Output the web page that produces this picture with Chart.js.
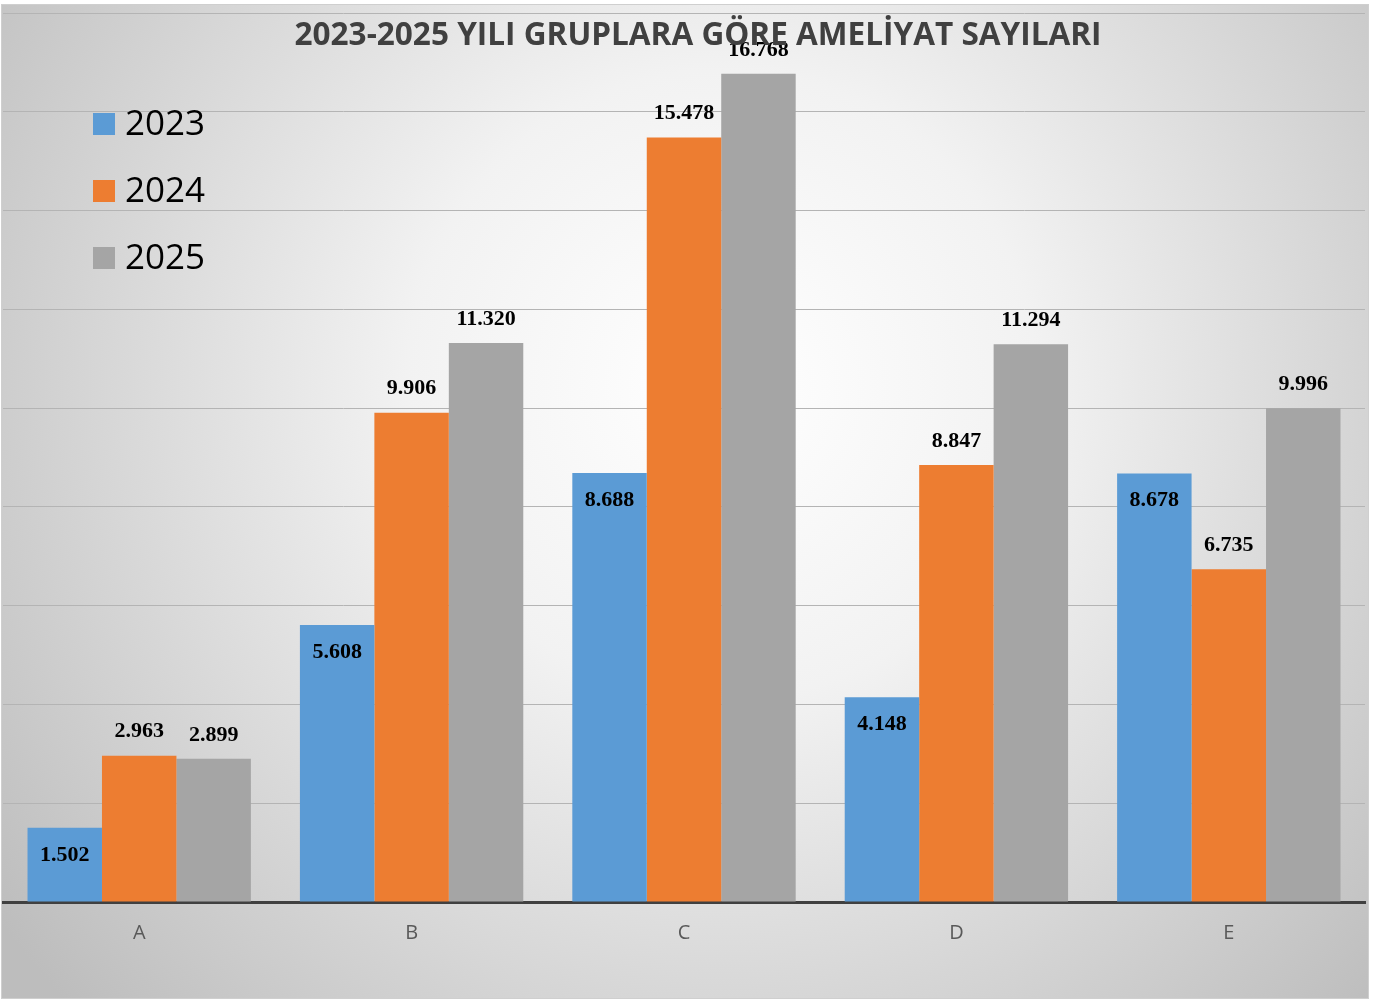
<!DOCTYPE html>
<html lang="tr">
<head>
<meta charset="utf-8">
<title>Ameliyat Sayıları</title>
<script src="https://cdn.jsdelivr.net/npm/chart.js@4/dist/chart.umd.min.js"></script>
<style>
    html, body { margin: 0; padding: 0; background: #ffffff; }
    #chart-wrap {
        position: absolute;
        left: 1px;
        top: 4px;
        width: 1366px;
        height: 993px;
        border: 1px solid #cfcfcf;
    }
</style>
</head>
<body>
<div id="chart-wrap"><canvas id="chart-ameliyat"></canvas></div>
<script>
const chartTitle = '2023-2025 YILI GRUPLARA GÖRE AMELİYAT SAYILARI';
const groups = ['A', 'B', 'C', 'D', 'E'];
const years = ['2023', '2024', '2025'];
const values2023 = [1502, 5608, 8688, 4148, 8678];
const values2024 = [2963, 9906, 15478, 8847, 6735];
const values2025 = [2899, 11320, 16768, 11294, 9996];
const yMax = 18000;
const yStep = 2000;

const colors = ['#5B9BD5', '#ED7D31', '#A5A5A5'];

// Türkçe binlik ayırıcı (1.502)
function formatTR(v) {
    return String(v).replace(/\B(?=(\d{3})+(?!\d))/g, '.');
}

// Arka plan: ortası açık, kenarları gri radyal gradyan
const backgroundPlugin = {
    id: 'bgGradient',
    beforeDraw(chart) {
        const { ctx, width, height } = chart;
        const g = ctx.createRadialGradient(720, 380, 0, 720, 380, 900);
        g.addColorStop(0, '#ffffff');
        g.addColorStop(0.35, '#f2f2f2');
        g.addColorStop(1, '#bdbdbd');
        ctx.save();
        ctx.fillStyle = g;
        ctx.fillRect(0, 0, width, height);
        ctx.restore();
    }
};

// Başlık, lejant ve veri etiketleri
const overlayPlugin = {
    id: 'overlay',
    afterDatasetsDraw(chart) {
        const { ctx } = chart;
        ctx.save();

        // veri etiketleri
        ctx.font = 'bold 22px "Liberation Serif", "Times New Roman", serif';
        ctx.fillStyle = '#000000';
        ctx.textAlign = 'center';
        ctx.textBaseline = 'middle';
        chart.data.datasets.forEach((ds, i) => {
            const meta = chart.getDatasetMeta(i);
            meta.data.forEach((bar, j) => {
                const inside = i === 0; // 2023 etiketleri çubuğun içinde
                const y = inside ? bar.y + 27 : bar.y - 24;
                ctx.fillText(formatTR(ds.data[j]), bar.x, y);
            });
        });

        // başlık
        ctx.font = 'bold 33px "Open Sans", "Liberation Sans", sans-serif';
        ctx.fillStyle = '#404040';
        ctx.textBaseline = 'alphabetic';
        ctx.fillText(chartTitle, 696, 40, 807);

        // lejant
        ctx.textAlign = 'left';
        ctx.textBaseline = 'middle';
        ctx.font = '35px "Open Sans", "Liberation Sans", sans-serif';
        years.forEach((label, i) => {
            const cy = 119 + i * 67;
            ctx.fillStyle = colors[i];
            ctx.fillRect(91, cy - 11, 22, 22);
            ctx.fillStyle = '#000000';
            ctx.fillText(label, 123, cy + 1);
        });

        ctx.restore();
    }
};

const ctx = document.getElementById('chart-ameliyat');

new Chart(ctx, {
    type: 'bar',
    data: {
        labels: groups,
        datasets: [
            { label: years[0], data: values2023, backgroundColor: colors[0] },
            { label: years[1], data: values2024, backgroundColor: colors[1] },
            { label: years[2], data: values2025, backgroundColor: colors[2] }
        ]
    },
    options: {
        responsive: true,
        maintainAspectRatio: false,
        animation: false,
        layout: { padding: { left: 1, right: 3, top: 8, bottom: 0 } },
        datasets: {
            bar: { categoryPercentage: 0.82, barPercentage: 1.0, borderWidth: 0 }
        },
        plugins: {
            legend: { display: false },
            title: { display: false },
            tooltip: { enabled: false }
        },
        scales: {
            x: {
                grid: { display: false, drawTicks: false },
                border: { display: true, color: '#404040', width: 3 },
                ticks: {
                    color: '#595959',
                    padding: 19,
                    font: { size: 20, family: '"Open Sans", "Liberation Sans", sans-serif' }
                },
                afterFit: s => { s.height = 96; }
            },
            y: {
                min: 0,
                max: yMax,
                ticks: { display: false, stepSize: yStep },
                grid: { color: '#b4b4b4', lineWidth: 1, drawTicks: false },
                border: { display: false },
                afterFit: s => { s.width = 0; }
            }
        }
    },
    plugins: [backgroundPlugin, overlayPlugin]
});
</script>
</body>
</html>
